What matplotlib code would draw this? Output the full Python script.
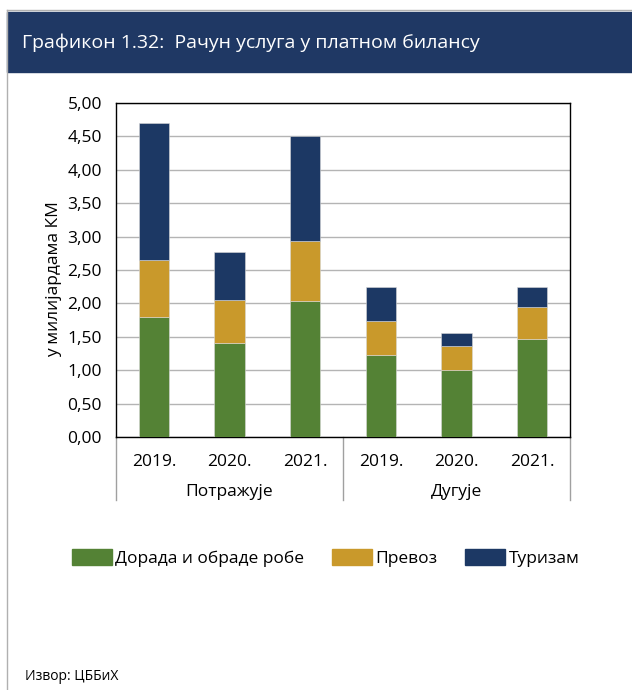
import numpy as np
import matplotlib.pyplot as plt
from matplotlib.patches import Rectangle
from matplotlib.lines import Line2D

plt.rcParams['font.family'] = ['Open Sans', 'DejaVu Sans']

# data (billion KM)
years = ['2019.', '2020.', '2021.']
groups = ['Потражује', 'Дугује']
series_names = ['Дорада и обраде робе', 'Превоз', 'Туризам']
dorada = [1.80, 1.40, 2.04, 1.23, 1.01, 1.46]
prevoz = [0.85, 0.65, 0.90, 0.51, 0.35, 0.49]
turizam = [2.05, 0.72, 1.57, 0.50, 0.20, 0.29]
colors = ['#548235', '#c9992b', '#1c3864']

fig = plt.figure(figsize=(6.32, 6.9), dpi=100)

# header band and frame
fig.add_artist(Rectangle((7/632, 1 - 72/690), 1, 60/690, transform=fig.transFigure,
                         color='#1f3864', zorder=0))
fig.add_artist(Line2D([7/632, 7/632], [0, 1 - 10/690], transform=fig.transFigure,
                      color='#b0b0b0', lw=1))
fig.add_artist(Line2D([7/632, 1], [1 - 10/690, 1 - 10/690], transform=fig.transFigure,
                      color='#b0b0b0', lw=1))
fig.text(22/632, 1 - 43/690, 'Графикон 1.32:  Рачун услуга у платном билансу',
         color='white', fontsize=14, va='center', ha='left')

ax = fig.add_axes([116/632, 253/690, 454/632, 334/690])
x = np.arange(len(dorada))
bottom = np.zeros(len(dorada))
for vals, name, c in zip([dorada, prevoz, turizam], series_names, colors):
    ax.bar(x, vals, width=0.4, bottom=bottom, color=c, label=name, zorder=3,
           edgecolor='#d8d8d8', linewidth=0.4)
    bottom += np.array(vals)

ax.set_xlim(-0.5, len(dorada) - 0.5)
ax.set_ylim(0, 5)
ax.set_yticks(np.arange(0, 5.01, 0.5))
ax.set_yticklabels([f'{v:.2f}'.replace('.', ',') for v in np.arange(0, 5.01, 0.5)])
ax.yaxis.grid(True, color='#b4b4b4', lw=1, zorder=0)
ax.set_xticks(x)
ax.set_xticklabels(years * 2)
ax.tick_params(axis='x', length=0, pad=12, labelsize=12.5)
ax.tick_params(axis='y', length=0, pad=10, labelsize=12.5)
for s in ax.spines.values():
    s.set_color('black')
    s.set_linewidth(1)
ax.set_ylabel('у милијардама КМ', fontsize=12.5)
ax.yaxis.set_label_coords(-0.12, 0.473)

# group labels and separators
for i, g in enumerate(groups):
    ax.text(i * 3 + 1, -0.82, g, ha='center', va='center', fontsize=12.5,
            transform=ax.transData)
for xs in [-0.5, 2.5, 5.5]:
    ax.add_line(Line2D([xs, xs], [0, -0.95], color='#a0a0a0', lw=1, clip_on=False))

handles = [Rectangle((0, 0), 1, 1, color=c) for c in colors]
fig.legend(handles, series_names, loc='center', bbox_to_anchor=(0.515, 1 - 558/690),
           ncol=3, frameon=False, fontsize=12.5, handlelength=2.3, handleheight=1.0,
           handletextpad=0.2, columnspacing=1.6)

fig.text(25/632, 1 - 677/690, 'Извор: ЦББиХ', fontsize=10, va='center', ha='left')

fig.savefig('out.png', dpi=100)
